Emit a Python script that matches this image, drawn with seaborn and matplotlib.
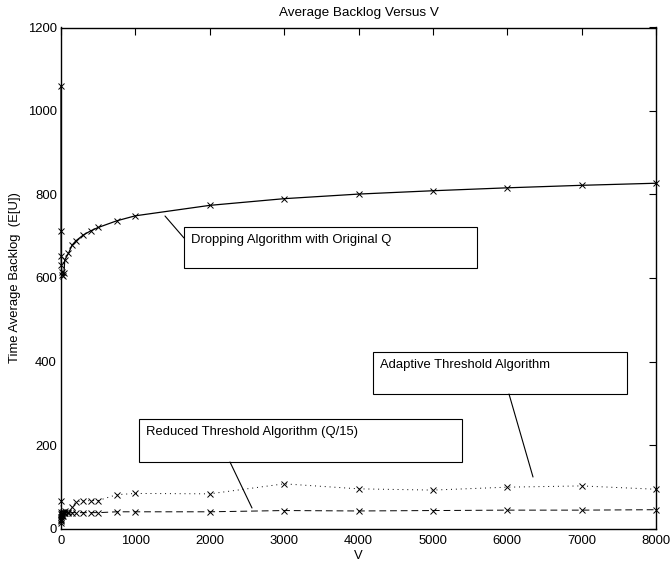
import numpy as np
import pandas as pd
import matplotlib
matplotlib.use("Agg")
import matplotlib.pyplot as plt
import seaborn as sns
from matplotlib.patches import Rectangle
from matplotlib.lines import Line2D

# values
v_drop = [0, 1, 2, 5, 10, 20, 30, 40, 50, 100, 150, 200, 300, 400, 500, 750, 1000,
          2000, 3000, 4000, 5000, 6000, 7000, 8000]
backlog_drop = [1060, 712, 652, 630, 615, 607, 605, 612, 643, 659, 679, 689, 703, 713,
                721, 737, 749, 774, 790, 801, 809, 816, 822, 827]

v_thr = [0, 1, 2, 5, 10, 20, 30, 40, 50, 100, 150, 200, 300, 400, 500, 750, 1000,
         2000, 3000, 4000, 5000, 6000, 7000, 8000]
backlog_adapt = [67, 35, 22, 18, 30, 38, 40, 36, 42, 40, 52, 64, 66, 67, 67, 81, 84,
                 83, 107, 95, 92, 99, 102, 94]
backlog_reduced = [40, 12, 20, 28, 32, 35, 30, 36, 38, 37, 38, 38, 38, 38, 38, 40, 40,
                   40, 43, 42, 43, 44, 44, 45]

title = "Average Backlog Versus V"
x_label = "V"
y_label = "Time Average Backlog  (E[U])"

sns.set_style("white")
plt.rcParams['font.family'] = ['Liberation Sans', 'DejaVu Sans']
plt.rcParams['font.size'] = 9.4
plt.rcParams['xtick.direction'] = 'in'
plt.rcParams['ytick.direction'] = 'in'
plt.rcParams['text.color'] = 'black'
plt.rcParams['axes.labelcolor'] = 'black'
plt.rcParams['xtick.color'] = 'black'
plt.rcParams['ytick.color'] = 'black'

W, H = 671, 567
fig = plt.figure(figsize=(W / 100, H / 100), dpi=100)
ax = fig.add_axes([61 / W, 1 - 528.5 / H, 595 / W, 501 / H])

drop = pd.DataFrame({"V": v_drop, "backlog": backlog_drop})
thr = pd.DataFrame({"V": v_thr, "adapt": backlog_adapt, "reduced": backlog_reduced})

mk = dict(marker="x", markersize=4, markeredgewidth=0.7, markeredgecolor="black",
          estimator=None, sort=False, clip_on=False)
sns.lineplot(data=drop, x="V", y="backlog", ax=ax, color="black", linewidth=0.9, **mk)
sns.lineplot(data=thr, x="V", y="adapt", ax=ax, color="black", linewidth=0.7,
             linestyle=(0, (1, 4)), **mk)
sns.lineplot(data=thr, x="V", y="reduced", ax=ax, color="black", linewidth=0.7,
             linestyle=(0, (7, 4)), **mk)

ax.set_xlim(0, 8000)
ax.set_ylim(0, 1200)
ax.set_xticks(range(0, 8001, 1000))
ax.set_yticks(range(0, 1201, 200))
ax.tick_params(top=True, right=True, length=5, width=0.8, labelsize=9.4)
ax.tick_params(axis="x", pad=5)
ax.tick_params(axis="y", pad=3)
for s in ax.spines.values():
    s.set_linewidth(1.0)
    s.set_color("black")
    s.set_zorder(5)
ax.set_title(title, fontsize=9.7, pad=8)
ax.set_xlabel(x_label, fontsize=9.4, labelpad=2)
ax.set_ylabel(y_label, fontsize=9.4, labelpad=5)


def fx(px):
    return px / W


def fy(py):
    return 1 - py / H


def textbox(x0, y0, x1, y1, label):
    fig.patches.append(Rectangle((fx(x0), fy(y1)), fx(x1) - fx(x0), fy(y0) - fy(y1),
                                 transform=fig.transFigure, fill=True, facecolor="white",
                                 edgecolor="black", linewidth=0.8))
    fig.text(fx(x0 + 7), fy(y0 + 7), label, ha="left", va="top", fontsize=9.4)


def pointer(xa, ya, xb, yb):
    fig.lines.append(Line2D([fx(xa), fx(xb)], [fy(ya), fy(yb)], transform=fig.transFigure,
                            color="black", linewidth=0.8))


pointer(165, 216, 184, 238)
textbox(184, 227, 477, 268, "Dropping Algorithm with Original Q")
pointer(509, 394, 533, 477)
textbox(373, 352, 627, 394, "Adaptive Threshold Algorithm")
pointer(230, 462, 252, 508)
textbox(139, 419, 462, 462, "Reduced Threshold Algorithm (Q/15)")

fig.savefig("out.png", dpi=100)
